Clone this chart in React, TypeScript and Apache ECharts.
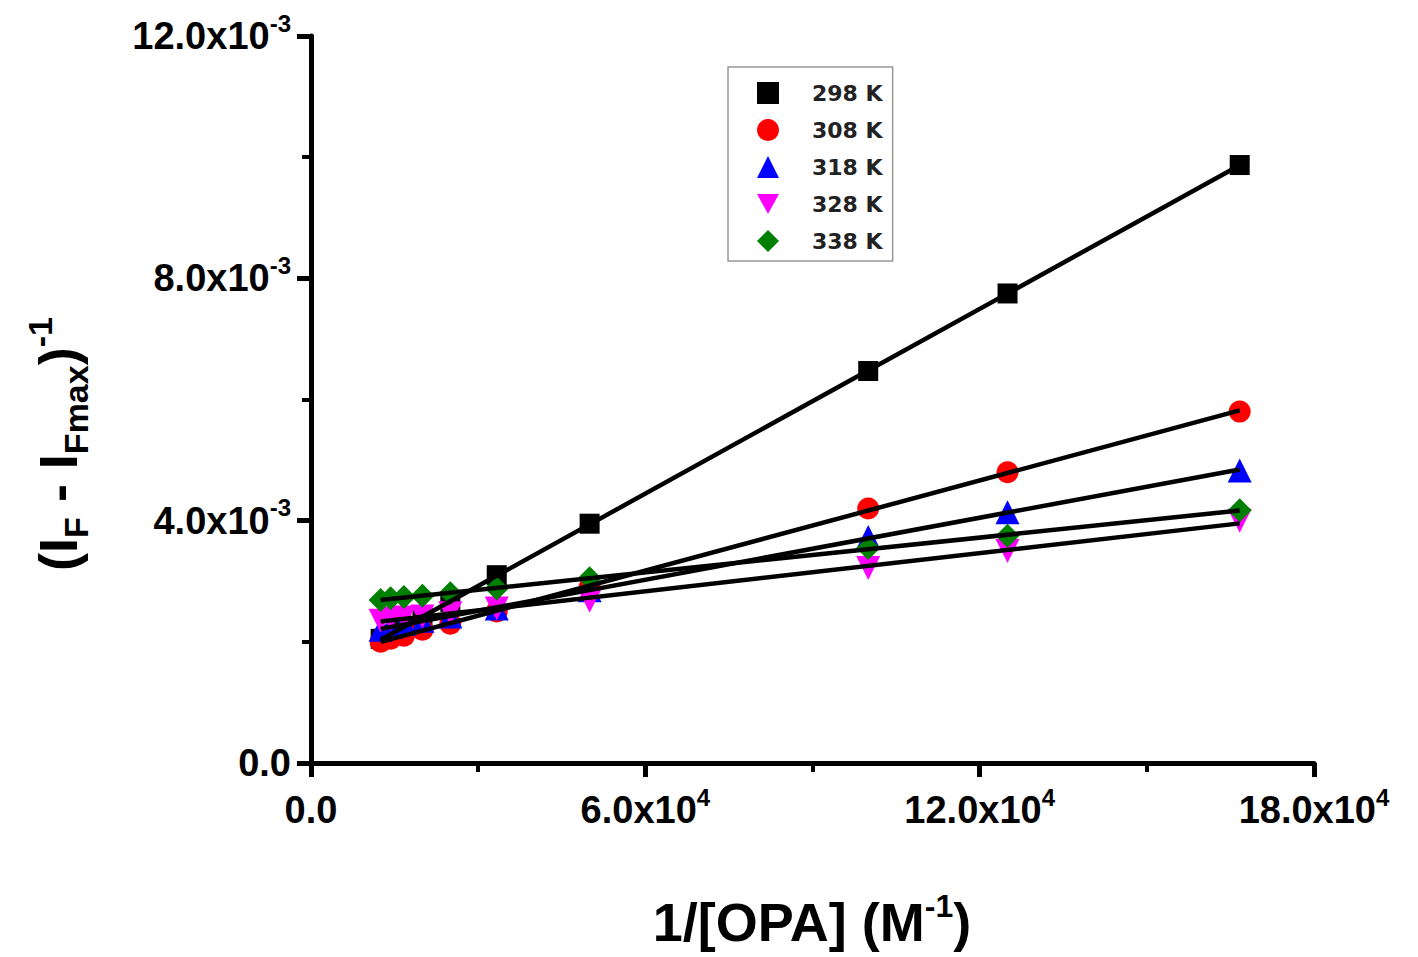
import React, { useEffect, useRef } from "react";
import * as echarts from "echarts";

// 1/[OPA] values (M^-1)
const xValues = [12500, 14286, 16667, 20000, 25000, 33333, 50000, 100000, 125000, 166667];

// (IF - IFmax)^-1 values
const y298 = [0.00205, 0.00212, 0.00224, 0.0024, 0.00266, 0.0031, 0.00395, 0.00647, 0.00775, 0.00987];
const y308 = [0.002, 0.00205, 0.0021, 0.0022, 0.0023, 0.0025, 0.0029, 0.0042, 0.0048, 0.0058];
const y318 = [0.0022, 0.00225, 0.0023, 0.00235, 0.00242, 0.00255, 0.00285, 0.00373, 0.00414, 0.00483];
const y328 = [0.00235, 0.00238, 0.0024, 0.00242, 0.00247, 0.00255, 0.00268, 0.00322, 0.0035, 0.004];
const y338 = [0.00269, 0.00272, 0.00274, 0.00276, 0.0028, 0.00288, 0.00305, 0.00355, 0.00375, 0.00417];

const seriesNames = ["298 K", "308 K", "318 K", "328 K", "338 K"];
const seriesValues = [y298, y308, y318, y328, y338];
const seriesColors = ["#000000", "#ff0000", "#0000ff", "#ff00ff", "#008000"];
const seriesSymbols = [
  "rect",
  "circle",
  "triangle",
  "path://M0,0 L20,0 L10,18 Z",
  "diamond",
];
const seriesSymbolSize = [20, 22, 24, 24, 24];

const xTicks = { min: 0, max: 180000, interval: 60000 };
const yTicks = { min: 0, max: 0.012, interval: 0.004 };

const FONT = '"Liberation Sans", Arial, sans-serif';

function linearFit(xs: number[], ys: number[]) {
  const n = xs.length;
  const mx = xs.reduce((a, b) => a + b, 0) / n;
  const my = ys.reduce((a, b) => a + b, 0) / n;
  let sxy = 0;
  let sxx = 0;
  for (let i = 0; i < n; i++) {
    sxy += (xs[i] - mx) * (ys[i] - my);
    sxx += (xs[i] - mx) * (xs[i] - mx);
  }
  const b = sxy / sxx;
  const a = my - b * mx;
  const x0 = Math.min(...xs);
  const x1 = Math.max(...xs);
  return [
    [x0, a + b * x0],
    [x1, a + b * x1],
  ];
}

export default function App() {
  const ref = useRef<HTMLDivElement>(null);

  useEffect(() => {
    if (!ref.current) return;
    const chart = echarts.init(ref.current, undefined, { renderer: "svg" });

    const labelRich = {
      a: { fontSize: 38, lineHeight: 50, fontWeight: "bold", fontFamily: FONT, color: "#000" },
      s: { fontSize: 24, lineHeight: 24, fontWeight: "bold", fontFamily: FONT, color: "#000", verticalAlign: "top" },
    };

    const scatterSeries = seriesNames.map((name, i) => ({
      name,
      type: "scatter",
      data: xValues.map((x, j) => [x, seriesValues[i][j]]),
      symbol: seriesSymbols[i],
      symbolSize: seriesSymbolSize[i],
      itemStyle: { color: seriesColors[i], opacity: 1 },
      z: 2,
    }));

    const fitSeries = seriesNames.map((name, i) => ({
      name: name + " fit",
      type: "line",
      data: linearFit(xValues, seriesValues[i]),
      symbol: "none",
      lineStyle: { color: "#000", width: 4.5 },
      silent: true,
      z: 3,
    }));

    const tickStyle = {
      axisLine: { show: true, lineStyle: { color: "#000", width: 5 } },
      axisTick: { show: true, length: 14, lineStyle: { color: "#000", width: 5 } },
      minorTick: { show: true, splitNumber: 2, length: 9, lineStyle: { color: "#000", width: 4 } },
      splitLine: { show: false },
    };

    chart.setOption({
      animation: false,
      backgroundColor: "#fff",
      grid: { left: 311, right: 104, top: 36, bottom: 194, containLabel: false },
      xAxis: {
        type: "value",
        min: xTicks.min,
        max: xTicks.max,
        interval: xTicks.interval,
        ...tickStyle,
        axisLabel: {
          margin: 22,
          formatter: (v: number) =>
            v === 0 ? "{a|0.0}" : `{a|${(v / 1e4).toFixed(1)}x10}{s|4}`,
          rich: labelRich,
        },
      },
      yAxis: {
        type: "value",
        min: yTicks.min,
        max: yTicks.max,
        interval: yTicks.interval,
        ...tickStyle,
        axisLabel: {
          margin: 20,
          formatter: (v: number) =>
            Math.abs(v) < 1e-12 ? "{a|0.0}" : `{a|${(v * 1000).toFixed(1)}x10}{s|-3}`,
          rich: labelRich,
        },
      },
      legend: {
        data: seriesNames,
        orient: "vertical",
        left: 728,
        top: 67,
        padding: [15, 10, 9, 29],
        itemGap: 15,
        itemWidth: 22,
        itemHeight: 22,
        borderColor: "#999",
        borderWidth: 1.5,
        textStyle: {
          fontFamily: '"DejaVu Sans", sans-serif',
          fontWeight: "bold",
          fontSize: 22,
          lineHeight: 22,
          color: "#222",
          padding: [0, 0, 0, 28],
        },
      },
      graphic: [
        {
          type: "text",
          x: 812,
          y: 922,
          style: {
            text: "{m|1/[OPA] (M}{s|-1}{m|)}",
            align: "center",
            verticalAlign: "middle",
            rich: {
              m: { fontSize: 54, lineHeight: 64, fontWeight: "bold", fontFamily: FONT, fill: "#000" },
              s: { fontSize: 32, lineHeight: 32, fontWeight: "bold", fontFamily: FONT, fill: "#000", verticalAlign: "top" },
            },
          },
        },
        {
          type: "text",
          x: 58,
          y: 444,
          rotation: Math.PI / 2,
          style: {
            text: "{m|(I}{b|F}{m| - I}{b|Fmax}{m|)}{p|-1}",
            align: "center",
            verticalAlign: "middle",
            rich: {
              m: { fontSize: 54, lineHeight: 70, fontWeight: "bold", fontFamily: FONT, fill: "#000" },
              b: { fontSize: 34, lineHeight: 34, fontWeight: "bold", fontFamily: FONT, fill: "#000", verticalAlign: "bottom" },
              p: { fontSize: 34, lineHeight: 34, fontWeight: "bold", fontFamily: FONT, fill: "#000", verticalAlign: "top" },
            },
          },
        },
      ],
      series: [...scatterSeries, ...fitSeries],
    });

    return () => chart.dispose();
  }, []);

  return (
    <div
      ref={ref}
      style={{ position: "fixed", left: 0, top: 0, width: 1418, height: 957 }}
    />
  );
}
